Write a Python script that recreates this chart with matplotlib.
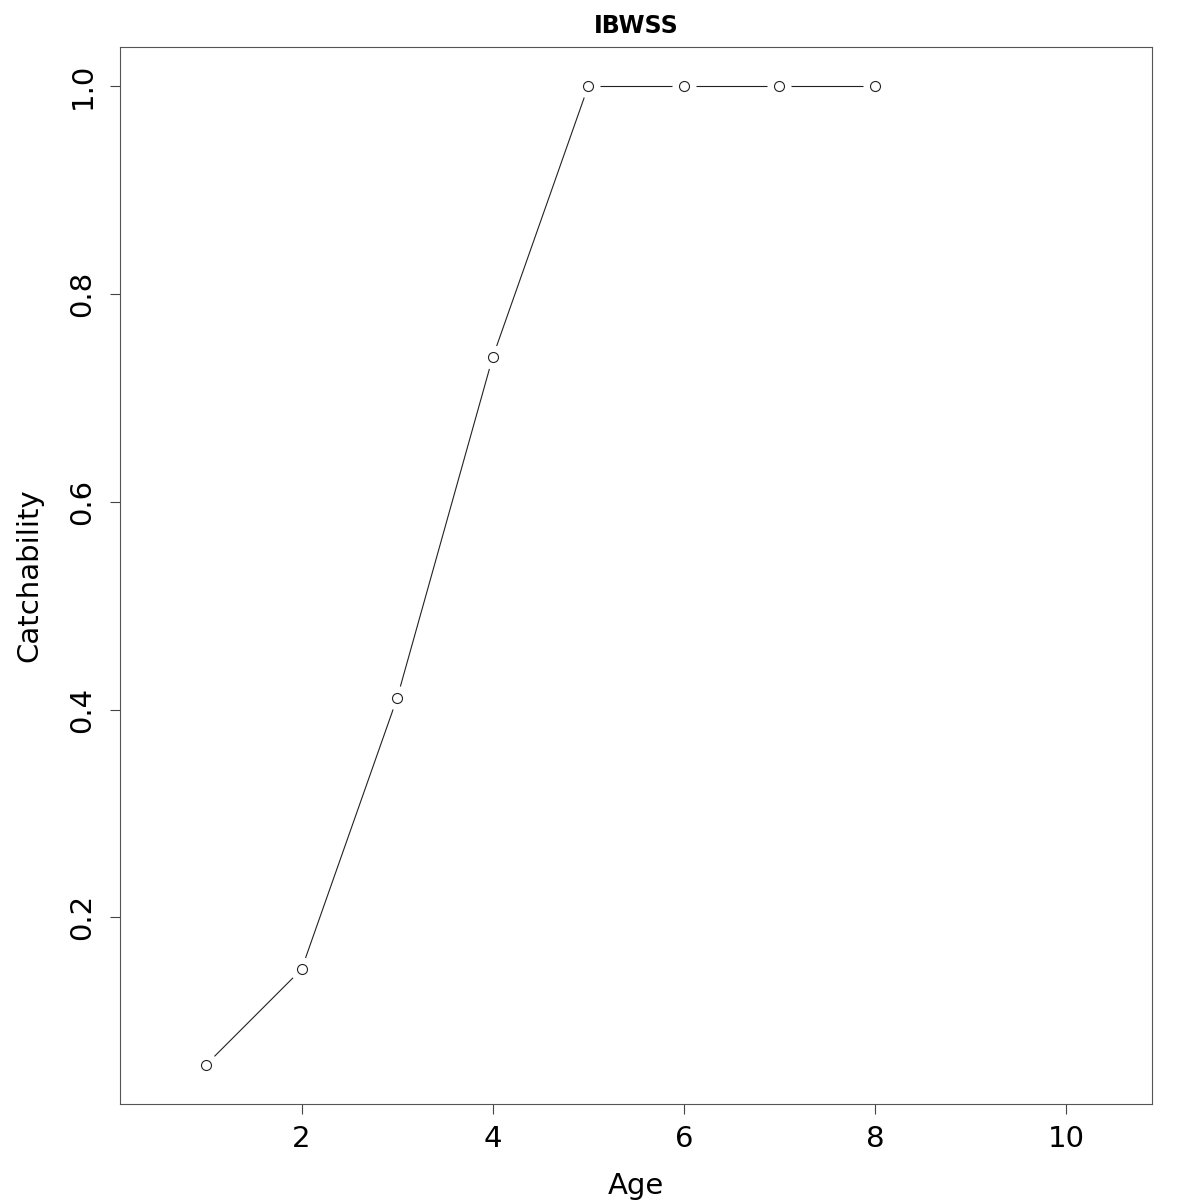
import numpy as np
import matplotlib
matplotlib.use("Agg")
import matplotlib.pyplot as plt

ages = [1, 2, 3, 4, 5, 6, 7, 8]
catchability = [0.058, 0.150, 0.411, 0.739, 1.0, 1.0, 1.0, 1.0]
title = "IBWSS"
xlabel = "Age"
ylabel = "Catchability"
xticks = [2, 4, 6, 8, 10]
yticks = [0.2, 0.4, 0.6, 0.8, 1.0]

plt.rcParams['font.family'] = ['DejaVu Sans']
fig = plt.figure(figsize=(12, 12), dpi=100)
ax = fig.add_axes([0.1, 0.08, 0.86, 0.8808])

ymin, ymax = min(catchability), max(catchability)
yr = ymax - ymin
ax.set_xlim(0.5 - 0.4, 10.5 + 0.4)
ax.set_ylim(ymin - 0.04 * yr, ymax + 0.04 * yr)

lc = '#222222'
# type="b": points with gapped line segments
fig.canvas.draw()
tr = ax.transData
inv = tr.inverted()
gap = 12.0
pts = tr.transform(np.column_stack([ages, catchability]))
for i in range(len(pts) - 1):
    p0, p1 = pts[i], pts[i + 1]
    d = p1 - p0
    L = np.hypot(*d)
    if L <= 2 * gap:
        continue
    u = d / L
    a = inv.transform(p0 + u * gap)
    b = inv.transform(p1 - u * gap)
    ax.plot([a[0], b[0]], [a[1], b[1]], color=lc, lw=0.8, solid_capstyle='butt')
ax.plot(ages, catchability, linestyle='none', marker='o', markersize=7.2,
        markerfacecolor='white', markeredgecolor=lc, markeredgewidth=0.8)

for s in ax.spines.values():
    s.set_color('#555555')
    s.set_linewidth(0.8)

ax.set_xticks(xticks)
ax.set_xticklabels([str(t) for t in xticks])
ax.set_yticks(yticks)
ax.set_yticklabels([f"{t:.1f}" for t in yticks], rotation=90, va='center')
ax.tick_params(axis='both', direction='out', length=7, width=0.8, color='#444444',
               labelsize=21, pad=8)
ax.tick_params(axis='y', pad=10)

ax.set_xlabel(xlabel, fontsize=21, labelpad=14)
ax.set_ylabel(ylabel, fontsize=21, labelpad=18)
ax.set_title(title, fontsize=17, fontweight='bold', pad=10)

fig.savefig("out.png", dpi=100)
